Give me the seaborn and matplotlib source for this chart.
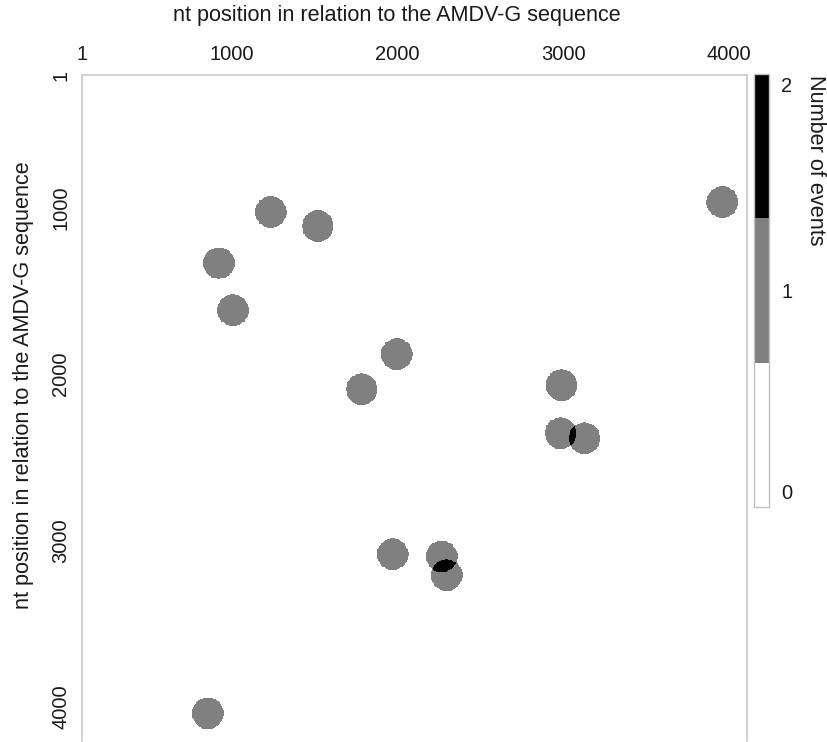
import numpy as np
import pandas as pd
import matplotlib
matplotlib.use("Agg")
import matplotlib.pyplot as plt
import seaborn as sns
from matplotlib.colors import ListedColormap

# Recombination event centres (nt position, x = AMDV-G position, y = AMDV-G position)
event_x = [1237, 1520, 923, 1008, 1996, 1785, 2990, 2984, 3128, 1971, 2267, 2297, 857, 3959]
event_y = [1024, 1109, 1332, 1615, 1880, 2091, 2066, 2356, 2386, 3085, 3097, 3211, 4042, 964]
event_radius = 95

axis_ticks = [1, 1000, 2000, 3000, 4000]
axis_labels = ["1", "1000", "2000", "3000", "4000"]
count_ticks = [0.07, 1, 1.95]
count_labels = ["0", "1", "2"]

# grid over the visible window (nt)
x_start, y_start, span, cell = 98, 199, 4010, 5
n = span // cell
xc = x_start + cell * (np.arange(n) + 0.5)
yc = y_start + cell * (np.arange(n) + 0.5)
XX, YY = np.meshgrid(xc, yc)
counts = np.zeros((n, n), dtype=int)
for ex, ey in zip(event_x, event_y):
    counts += ((XX - ex) ** 2 + (YY - ey) ** 2 <= event_radius ** 2).astype(int)
df = pd.DataFrame(counts, index=yc, columns=xc)

sns.set_theme(style="white")
plt.rcParams["font.family"] = ["Liberation Sans", "DejaVu Sans"]
txt = "#1a1a1a"

W, H = 827, 742
fig = plt.figure(figsize=(W / 100, H / 100), dpi=100)
ax = fig.add_axes([82 / W, 1 - 741 / H, 665 / W, 666 / H])
cax = fig.add_axes([754 / W, 1 - 507 / H, 15 / W, 433 / H])

cmap = ListedColormap(["#ffffff", "#808080", "#000000"])
sns.heatmap(df, ax=ax, cbar_ax=cax, cmap=cmap, vmin=0, vmax=2,
            xticklabels=False, yticklabels=False)

xpos = [(max(v, x_start) - x_start) / cell for v in axis_ticks]
ypos = [(max(v, y_start) - y_start) / cell for v in axis_ticks]
ax.xaxis.tick_top()
ax.set_xticks(xpos)
ax.set_xticklabels(axis_labels, fontsize=14.5, color=txt)
ax.set_yticks(ypos)
ax.set_yticklabels(axis_labels, fontsize=14.5, color=txt, rotation=90, va="center")
ax.tick_params(axis="x", length=0, pad=8)
ax.tick_params(axis="y", length=0, pad=8.5)
ax.set_xlabel("")
ax.set_ylabel("")
for name, sp in ax.spines.items():
    sp.set_visible(name != "bottom")
    sp.set_color("#c8c8c8")
    sp.set_linewidth(1.2)

cbar = ax.collections[0].colorbar
cbar.set_ticks(count_ticks)
cbar.set_ticklabels(count_labels)
cax.tick_params(length=0, labelsize=14.5, pad=9, colors=txt)
cbar.outline.set_linewidth(1.0)
cbar.outline.set_edgecolor("#c0c0c0")

fig.text(397 / W, 1 - 16 / H, "nt position in relation to the AMDV-G sequence",
         ha="center", va="center", fontsize=15.6, color=txt)
fig.text(24 / W, 1 - 385 / H, "nt position in relation to the AMDV-G sequence",
         ha="center", va="center", rotation=90, fontsize=15.6, color=txt)
fig.text(815 / W, 1 - 75 / H, "Number of events", ha="center", va="top",
         rotation=270, fontsize=15.6, color=txt)

fig.savefig("out.png", dpi=100)
